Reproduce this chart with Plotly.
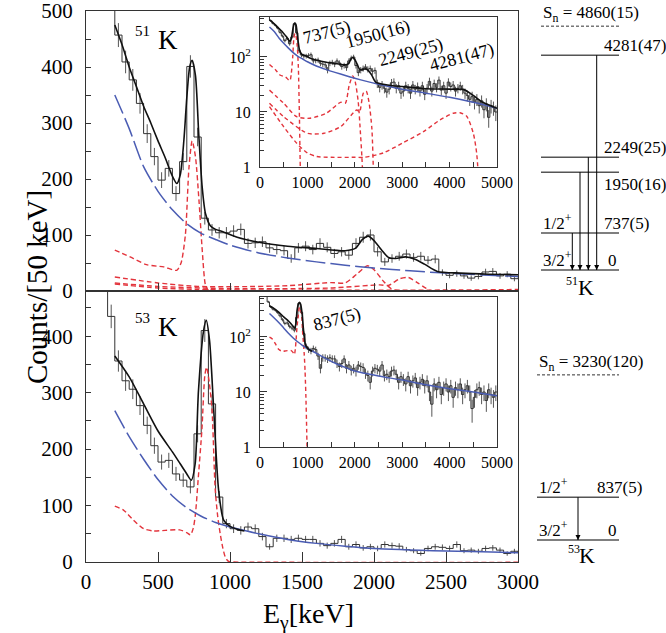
import numpy as np
import plotly.graph_objects as go

W, H = 666, 633
SERIF = "Liberation Serif, 'Times New Roman', 'DejaVu Serif', serif"

BIN_WIDTH = 50  # keV per bin

# ---------------- 51K spectrum ----------------
K51_FIRST_BIN = 150
k51_counts = [
    560, 457, 409, 377, 335, 281, 240, 198, 219, 174,
    231, 401, 275, 130, 109, 104, 104, 107, 110, 85,
    86, 88, 77, 74, 72, 58, 77, 80, 74, 85,
    78, 67, 70, 64, 85, 96, 100, 70, 52, 58,
    62, 66, 60, 62, 55, 57, 33, 28, 31, 27,
    23, 26, 34, 35, 27, 30, 22,
    24, 30, 27, 22, 31, 26, 29, 24, 30, 21,
    27, 36, 24, 33, 28, 38, 25, 30, 22, 35,
    29, 31, 24, 27, 30, 26, 22, 20, 17, 19,
    15, 17, 13, 16, 11, 14, 8, 13, 12, 10,
]
k51_fit_E = [200, 250, 300, 350, 400, 450, 500, 550, 600, 631, 655, 680, 700, 720, 737,
             760, 783, 807, 830, 865, 900, 950, 1050, 1200, 1400, 1600, 1800, 1870, 1920,
             1960, 2000, 2050, 2100, 2150, 2220, 2280, 2350, 2440, 2600, 2800, 3000, 3500,
             4000, 4300, 4500, 4700, 5000]
k51_fit = [475, 440, 400, 365, 330, 300, 268, 238, 205, 192, 208, 270, 345, 400, 412,
           385, 280, 185, 138, 116, 110, 106, 96, 87, 80, 76, 72, 76, 92,
           98, 90, 74, 60, 58, 61, 57, 48, 35, 32, 30, 29, 26.5,
           26, 25.5, 20, 15, 11.7]
k51_bg_E = [200, 300, 400, 500, 600, 700, 800, 900, 1000, 1200, 1400, 1600, 1800, 2000,
            2250, 2500, 3000, 3500, 4000, 4500, 5000]
k51_bg = [350, 290, 222, 178, 145, 120, 103, 92, 82, 68, 59, 52, 46, 41,
          36, 32, 26, 22, 18.5, 15, 11.7]
k51_r737_E = [200, 330, 420, 540, 630, 660, 690, 715, 737, 760, 785, 808, 830, 850, 870, 900, 5000]
k51_r737 = [73, 58, 47, 43, 37, 50, 100, 220, 268, 240, 160, 70, 10, 1, 0.3, 0, 0]
k51_r1950_E = [200, 500, 775, 1050, 1400, 1700, 1800, 1880, 1955, 2000, 2070, 2120, 2150, 2180, 2200, 5000]
k51_r1950 = [25, 14.4, 8.2, 7.7, 9.5, 15, 14.5, 30, 45, 38, 16, 4, 1.5, 0.3, 0, 0]
k51_r2249_E = [200, 500, 1000, 1350, 1700, 2040, 2100, 2180, 2240, 2300, 2360, 2390, 2410, 2430, 5000]
k51_r2249 = [14.4, 8.2, 4.1, 4.1, 5.4, 10.9, 10, 22, 24, 15, 5, 1, 0.3, 0, 0]
k51_r4281_E = [200, 500, 775, 1000, 1200, 1500, 2000, 2200, 2600, 3000, 3450, 3800, 4080,
               4220, 4360, 4500, 4570, 4610, 4640, 5000]
k51_r4281 = [12.5, 5.4, 2.7, 1.8, 1.55, 1.5, 1.5, 1.5, 1.8, 2.7, 4.4, 7.2, 9.5,
             9.7, 8.4, 4.1, 1.8, 0.5, 0, 0]

# ---------------- 53K spectrum ----------------
K53_FIRST_BIN = 100
k53_counts = [
    600, 435, 356, 321, 306, 277, 242, 206, 177, 180,
    156, 145, 133, 227, 410, 280, 115, 68, 59, 56,
    62, 59, 45, 27, 42, 42, 40, 42, 40, 40,
    33, 29, 33, 40, 27, 31, 25, 27, 24, 31,
    29, 28, 22, 20, 15, 24, 27, 26, 24, 31,
    20, 21, 19, 24, 25, 21, 15, 19,
    17, 14, 19, 13, 16, 18, 12, 15, 17, 13,
    16, 10, 6, 14, 11, 15, 9, 12, 14, 10,
    13, 8, 12, 11, 14, 9, 11, 13, 10, 5,
    8, 11, 12, 9, 10, 7, 11, 9, 8, 10,
]
k53_fit_E = [200, 300, 400, 500, 600, 654, 700, 731, 758, 781, 816, 835, 858, 886, 921,
             956, 1000, 1050, 1100]
k53_fit = [365, 328, 280, 232, 195, 174, 156, 145, 174, 303, 409, 428, 392, 274, 127,
           74, 63, 58, 55]
k53_bg_E = [200, 300, 400, 500, 600, 700, 800, 900, 1000, 1200, 1400, 1600, 1800, 2000,
            2500, 3000, 3500, 4000, 4500, 5000]
k53_bg = [268, 222, 182, 146, 117, 96, 81, 70, 62, 50, 40, 33, 28, 24,
          19.5, 16.5, 13.5, 11.5, 10, 8.5]
k53_r837_E = [200, 260, 330, 400, 470, 550, 650, 700, 725, 745, 760, 780, 805, 825, 837,
              855, 875, 897, 915, 932, 950, 967, 985, 1000, 1010, 5000]
k53_r837 = [99, 92, 74, 59, 55, 56, 57, 52, 48, 60, 85, 150, 235, 330, 345,
            320, 270, 130, 80, 50, 25, 9, 2, 0.3, 0, 0]

# ---------------- level schemes ----------------
k51_levels = [0, 737, 1950, 2249, 4281]
k51_energy_labels = ["0", "737(5)", "1950(16)", "2249(25)", "4281(47)"]
k51_spins = ["3/2<sup>+</sup>", "1/2<sup>+</sup>", "", "", ""]
k51_gammas = [737, 1950, 2249, 4281]
k51_sn = 4860
k51_sn_text = "S<sub>n</sub> = 4860(15)"

k53_levels = [0, 837]
k53_energy_labels = ["0", "837(5)"]
k53_spins = ["3/2<sup>+</sup>", "1/2<sup>+</sup>"]
k53_gammas = [837]
k53_sn = 3230
k53_sn_text = "S<sub>n</sub> = 3230(120)"

k51_peak_labels = ["737(5)", "1950(16)", "2249(25)", "4281(47)"]
k53_peak_labels = ["837(5)"]

main_yticks_51 = [0, 100, 200, 300, 400, 500]
main_yticks_53 = [0, 100, 200, 300, 400]
main_xticks = [0, 500, 1000, 1500, 2000, 2500, 3000]

# ---------------- layout helpers (pixel geometry) ----------------
def fx(px):
    return px / W


def fy(py):
    return 1 - py / H


MAIN_L, MAIN_R = 86, 518
TOP_T, MID, BOT_B = 11, 291, 562
INS_L, INS_R = 260, 497
INS1_T, INS1_B = 17, 167
INS2_T, INS2_B = 297, 447

AX = "#333333"
HIST = "#333333"
ERR = "#555555"
BLUE = "#4a5cb3"
RED = "#e3343c"
BLACK = "#111111"

fig = go.Figure()


def add_spectrum(xa, ya, lo, counts, fit_E, fit, bg_E, bg, reds, inset, bg_solid_from=None):
    counts = np.asarray(counts, dtype=float)
    edges = lo + BIN_WIDTH * np.arange(len(counts) + 1)
    ystep = np.append(counts, counts[-1])
    centers = edges[:-1] + BIN_WIDTH / 2
    common = dict(xaxis=xa, yaxis=ya, showlegend=False, hoverinfo="skip")
    fig.add_trace(go.Scatter(x=centers, y=counts, mode="markers",
                             marker=dict(size=2, color="rgba(0,0,0,0)"),
                             error_y=dict(type="data", array=np.sqrt(counts), width=0,
                                          thickness=1, color=ERR), **common))
    fig.add_trace(go.Scatter(x=edges, y=ystep, mode="lines",
                             line=dict(shape="hv", color=HIST, width=1), **common))
    red_dash = "4px,3px" if inset else "5px,3px"
    for rE, rc in reds:
        fig.add_trace(go.Scatter(x=rE, y=rc, mode="lines",
                                 line=dict(shape="spline", smoothing=0.7, color=RED,
                                           width=1.4, dash=red_dash), **common))
    bgE = np.asarray(bg_E)
    bgc = np.asarray(bg)
    if inset:
        fig.add_trace(go.Scatter(x=bgE, y=bgc, mode="lines",
                                 line=dict(shape="spline", smoothing=0.7, color=BLUE, width=1.5),
                                 **common))
    elif bg_solid_from is None:
        fig.add_trace(go.Scatter(x=bgE, y=bgc, mode="lines",
                                 line=dict(shape="spline", smoothing=0.7, color=BLUE, width=1.5,
                                           dash="20px,5px"), **common))
    else:
        m1 = bgE <= bg_solid_from
        m2 = bgE >= bg_solid_from
        fig.add_trace(go.Scatter(x=bgE[m1], y=bgc[m1], mode="lines",
                                 line=dict(shape="spline", smoothing=0.7, color=BLUE, width=1.5,
                                           dash="20px,5px"), **common))
        fig.add_trace(go.Scatter(x=bgE[m2], y=bgc[m2], mode="lines",
                                 line=dict(shape="spline", smoothing=0.7, color=BLUE, width=1.5),
                                 **common))
    fig.add_trace(go.Scatter(x=fit_E, y=fit, mode="lines",
                             line=dict(shape="spline", smoothing=0.7, color=BLACK, width=1.6),
                             **common))


reds51 = [(k51_r737_E, k51_r737), (k51_r1950_E, k51_r1950),
          (k51_r2249_E, k51_r2249), (k51_r4281_E, k51_r4281)]
reds53 = [(k53_r837_E, k53_r837)]

add_spectrum("x", "y", K51_FIRST_BIN, k51_counts, k51_fit_E, k51_fit, k51_bg_E, k51_bg, reds51, False)
add_spectrum("x2", "y2", K53_FIRST_BIN, k53_counts, k53_fit_E, k53_fit, k53_bg_E, k53_bg, reds53, False,
             bg_solid_from=1000)
add_spectrum("x3", "y3", K51_FIRST_BIN, k51_counts, k51_fit_E, k51_fit, k51_bg_E, k51_bg, reds51, True)
add_spectrum("x4", "y4", K53_FIRST_BIN, k53_counts, k53_fit_E, k53_fit, k53_bg_E, k53_bg, reds53, True)

tick_main = dict(family=SERIF, size=21, color="black")
tick_ins = dict(family=SERIF, size=16, color="black")
axis_common = dict(showgrid=False, zeroline=False, showline=True, mirror=True,
                   linecolor=AX, linewidth=1, tickcolor=AX, ticks="inside", automargin=False,
                   ticklabeloverflow="allow")

log_minor = [2, 3, 4, 5, 6, 7, 8, 9, 20, 30, 40, 50, 60, 70, 80, 90, 200, 300, 400, 500]

S51 = 0.05017   # px per keV in 51K level scheme
S53 = 0.05112   # px per keV in 53K level scheme
G51, G53 = 270, 540  # ground-state pixel rows
SCH_L = 521

hidden = dict(visible=False, automargin=False, showgrid=False, zeroline=False)

fig.update_layout(
    width=W, height=H, margin=dict(l=0, r=0, t=0, b=0, pad=0), autosize=False,
    paper_bgcolor="white", plot_bgcolor="white", showlegend=False,
    xaxis=dict(domain=[fx(MAIN_L), fx(MAIN_R)], range=[0, 3000], anchor="y",
               tickvals=main_xticks, ticklen=8, showticklabels=False, **axis_common),
    yaxis=dict(domain=[fy(MID), fy(TOP_T)], range=[0, 500], anchor="x",
               tickvals=main_yticks_51, ticklen=5, tickfont=tick_main, ticklabelstandoff=8,
               minor=dict(dtick=50, ticks="inside", ticklen=5, tickcolor=AX), **axis_common),
    xaxis2=dict(domain=[fx(MAIN_L), fx(MAIN_R)], range=[0, 3000], anchor="y2",
                tickvals=main_xticks, ticklen=10, tickfont=tick_main, ticklabelstandoff=1,
                **axis_common),
    yaxis2=dict(domain=[fy(BOT_B), fy(MID)], range=[0, 480], anchor="x2",
                tickvals=main_yticks_53, ticklen=5, tickfont=tick_main, ticklabelstandoff=8,
                minor=dict(dtick=50, ticks="inside", ticklen=5, tickcolor=AX), **axis_common),
    xaxis3=dict(domain=[fx(INS_L), fx(INS_R)], range=[0, 5000], anchor="y3",
                dtick=1000, tick0=0, ticklen=5, tickfont=tick_ins, ticklabelstandoff=1,
                minor=dict(dtick=500, ticks="inside", ticklen=5, tickcolor=AX), **axis_common),
    yaxis3=dict(domain=[fy(INS1_B), fy(INS1_T)], type="log", range=[0, 2.727], anchor="x3",
                tickvals=[1, 10, 100], ticktext=["1", "10", "10<sup>2</sup>"], ticklen=7,
                tickfont=tick_ins, ticklabelstandoff=5,
                minor=dict(tickvals=log_minor, ticks="inside", ticklen=4, tickcolor=AX),
                **axis_common),
    xaxis4=dict(domain=[fx(INS_L), fx(INS_R)], range=[0, 5000], anchor="y4",
                dtick=1000, tick0=0, ticklen=5, tickfont=tick_ins, ticklabelstandoff=1,
                minor=dict(dtick=500, ticks="inside", ticklen=5, tickcolor=AX), **axis_common),
    yaxis4=dict(domain=[fy(INS2_B), fy(INS2_T)], type="log", range=[0, 2.727], anchor="x4",
                tickvals=[1, 10, 100], ticktext=["1", "10", "10<sup>2</sup>"], ticklen=7,
                tickfont=tick_ins, ticklabelstandoff=5,
                minor=dict(tickvals=log_minor, ticks="inside", ticklen=4, tickcolor=AX),
                **axis_common),
    xaxis5=dict(domain=[fx(SCH_L), 1], range=[SCH_L, W], anchor="y5", **hidden),
    yaxis5=dict(domain=[fy(290), fy(10)], range=[(G51 - 290) / S51, (G51 - 10) / S51],
                anchor="x5", **hidden),
    xaxis6=dict(domain=[fx(SCH_L), 1], range=[SCH_L, W], anchor="y6", **hidden),
    yaxis6=dict(domain=[fy(570), fy(300)], range=[(G53 - 570) / S53, (G53 - 300) / S53],
                anchor="x6", **hidden),
)


def txt(x, y, text, size, xref="paper", yref="paper", xanchor="center", yanchor="middle", **kw):
    fig.add_annotation(x=x, y=y, xref=xref, yref=yref, text=text, showarrow=False,
                       xanchor=xanchor, yanchor=yanchor,
                       font=dict(family=SERIF, size=size, color="black"), **kw)


# nucleus labels in the spectra
txt(fx(142), fy(31), "51", 15)
txt(fx(168), fy(40), "K", 27)
txt(fx(142), fy(318), "53", 15)
txt(fx(168), fy(327), "K", 27)

# axis titles
txt(fx(37), fy(287), "Counts/[50 keV]", 29, textangle=-90)
txt(fx(308), fy(596), "E<sub>γ</sub>[keV]", 28, yanchor="top")

# peak labels in the insets
peak_pos_51 = [(327, 33), (378, 35), (411, 53), (462, 58)]
for lab, (px, py) in zip(k51_peak_labels, peak_pos_51):
    txt(fx(px), fy(py), lab, 18, textangle=-15)
peak_pos_53 = [(337, 319)]
for lab, (px, py) in zip(k53_peak_labels, peak_pos_53):
    txt(fx(px), fy(py), lab, 18, textangle=-15)


def draw_scheme(xa, ya, levels, elabels, spins, below, gammas, arrow_x, sn, sn_text,
                x0, x1, elab_x, zero_x):
    common = dict(xaxis=xa, yaxis=ya, showlegend=False, hoverinfo="skip")
    for E in levels:
        fig.add_trace(go.Scatter(x=[x0, x1], y=[E, E], mode="lines",
                                 line=dict(color="#555555", width=1.5), **common))
    fig.add_trace(go.Scatter(x=[x0, x1], y=[sn, sn], mode="lines",
                             line=dict(color="#333333", width=1, dash="3px,2px"), **common))
    txt(x0, sn, sn_text, 17, xref=xa, yref=ya, xanchor="left", yanchor="bottom", yshift=-1)
    for E, lab, sp, bl in zip(levels, elabels, spins, below):
        if E == 0:
            txt(zero_x, E, lab, 17, xref=xa, yref=ya, xanchor="right", yanchor="bottom", yshift=-2)
        elif bl:
            txt(elab_x, E, lab, 17, xref=xa, yref=ya, xanchor="left", yanchor="top", yshift=-1)
        else:
            txt(elab_x, E, lab, 17, xref=xa, yref=ya, xanchor="left", yanchor="bottom", yshift=-2)
        if sp:
            txt(x0, E, sp, 17, xref=xa, yref=ya, xanchor="left", yanchor="bottom", yshift=-2)
    for E, ax_ in zip(gammas, arrow_x):
        fig.add_trace(go.Scatter(x=[ax_, ax_], y=[E, 0], mode="lines",
                                 line=dict(color="black", width=1), **common))
    fig.add_trace(go.Scatter(x=arrow_x, y=[0] * len(arrow_x), mode="markers",
                             marker=dict(symbol="arrow-down", size=5, color="black",
                                         line=dict(width=0)),
                             cliponaxis=False, **common))


draw_scheme("x5", "y5", k51_levels, k51_energy_labels, k51_spins,
            [False, False, True, False, False], k51_gammas, [572.3, 580, 588.3, 596.7],
            k51_sn, k51_sn_text, 541, 619, 602, 619)
draw_scheme("x6", "y6", k53_levels, k53_energy_labels, k53_spins,
            [False, False], k53_gammas, [578],
            k53_sn, k53_sn_text, 537, 619, 595, 619)

txt(fx(572), fy(281), "51", 12)
txt(fx(585.5), fy(287), "K", 22)
txt(fx(574), fy(549), "53", 12)
txt(fx(587), fy(555), "K", 22)

fig.write_html("out.html", config={"displayModeBar": False},
               post_script="document.body.style.margin='0px';document.body.style.padding='0px';")
